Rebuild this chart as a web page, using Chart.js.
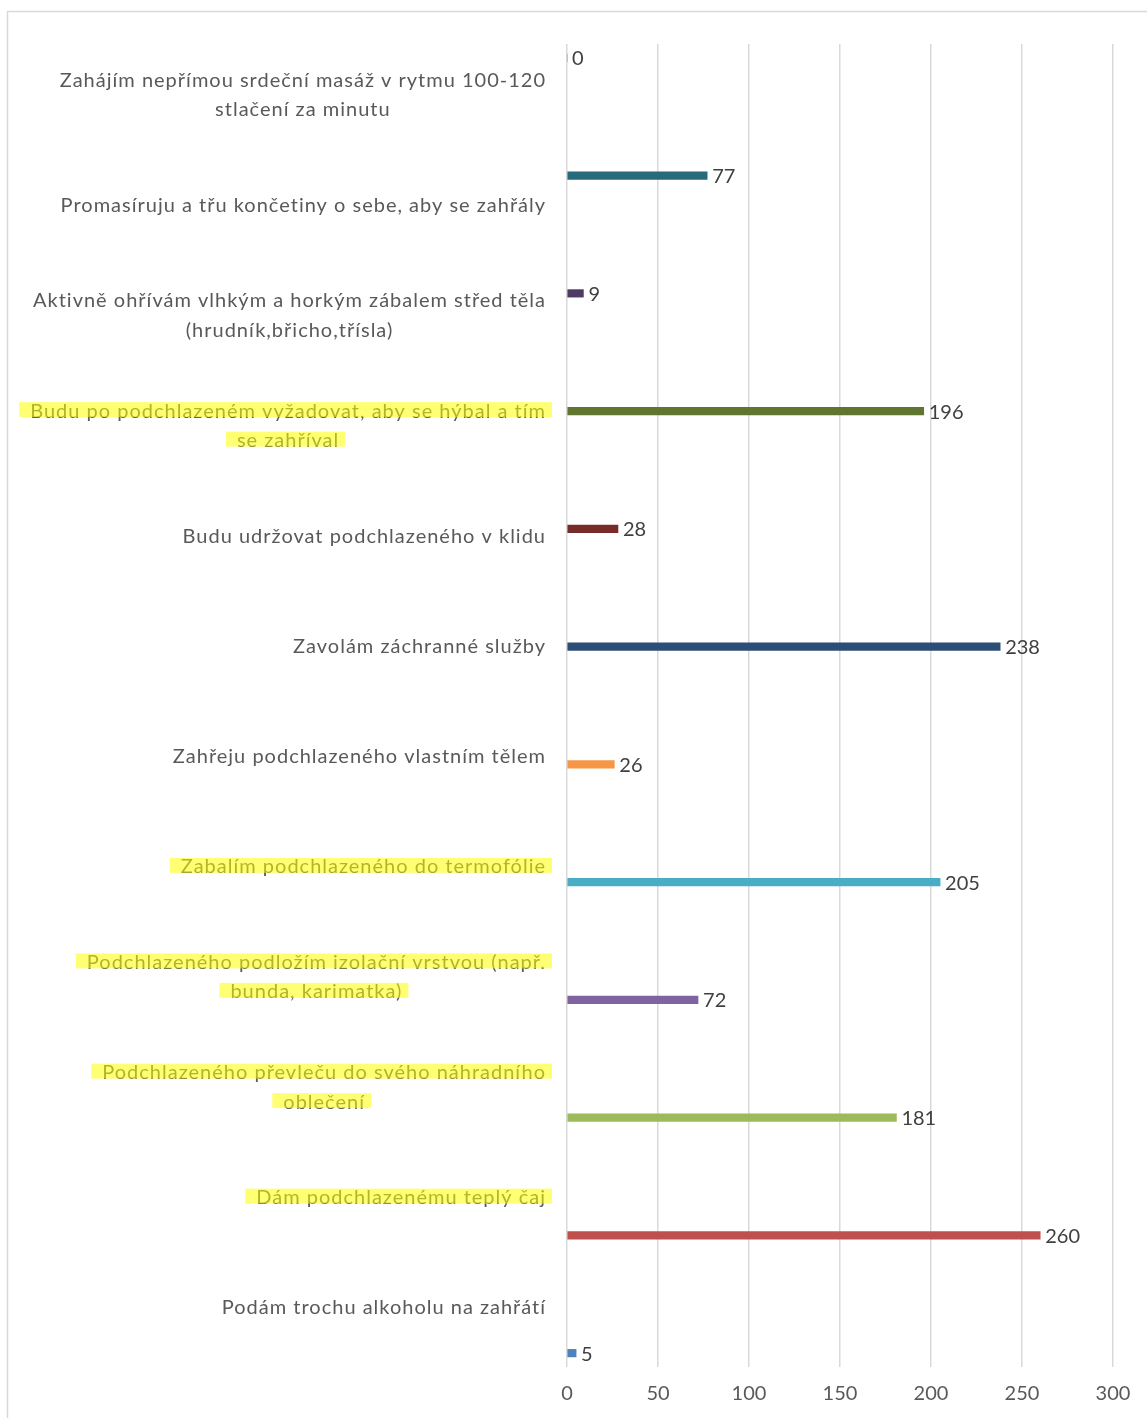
<!DOCTYPE html>
<html>
<head>
<meta charset="utf-8">
<script src="https://cdn.jsdelivr.net/npm/chart.js@4.4.1/dist/chart.umd.min.js"></script>
<style>
  html, body { margin: 0; padding: 0; background: #ffffff; }
  #wrap { width: 1147px; height: 1418px; position: relative; }
</style>
</head>
<body>
<div id="wrap"><canvas id="c" width="1147" height="1418"></canvas></div>
<script>
// ---- data (top to bottom as shown) ----
const categories = [
  ["Zahájím nepřímou srdeční masáž v rytmu 100-120", "stlačení za minutu"],
  ["Promasíruju a třu končetiny o sebe, aby se zahřály"],
  ["Aktivně ohřívám vlhkým a horkým zábalem střed těla", "(hrudník,břicho,třísla)"],
  ["Budu po podchlazeném vyžadovat, aby se hýbal a tím", "se zahříval"],
  ["Budu udržovat podchlazeného v klidu"],
  ["Zavolám záchranné služby"],
  ["Zahřeju podchlazeného vlastním tělem"],
  ["Zabalím podchlazeného do termofólie"],
  ["Podchlazeného podložím izolační vrstvou (např.", "bunda, karimatka)"],
  ["Podchlazeného převleču do svého náhradního", "oblečení"],
  ["Dám podchlazenému teplý čaj"],
  ["Podám trochu alkoholu na zahřátí"]
];
const values = [0, 77, 9, 196, 28, 238, 26, 205, 72, 181, 260, 5];
const highlighted = [false, false, false, true, false, false, false, true, true, true, true, false];
const seriesColors = [
  "#B65708", "#276A7C", "#4D3B62", "#5F7530", "#772C2A", "#2C4D75",
  "#F79646", "#4BACC6", "#8064A2", "#9BBB59", "#C0504D", "#4F81BD"
];
const xTicks = [0, 50, 100, 150, 200, 250, 300];

const NUM_FONT = "Lato, 'Open Sans', sans-serif";
const CAT_FONT = "Lato, 'Open Sans', sans-serif";

// one dataset per category, value only in its own category (Excel-style grouped series)
const datasets = values.map((v, i) => ({
  label: categories[i].join(" "),
  data: values.map((_, j) => (j === i ? v : null)),
  backgroundColor: seriesColors[i],
  borderWidth: 0,
  barThickness: 7.5
}));

const framePlugin = {
  id: "frame",
  beforeDraw(chart) {
    const ctx = chart.ctx;
    ctx.save();
    ctx.fillStyle = "#ffffff";
    ctx.fillRect(0, 0, chart.width, chart.height);
    ctx.strokeStyle = "#d9d9d9";
    ctx.lineWidth = 1.5;
    ctx.strokeRect(7.5, 11.5, chart.width + 20, chart.height + 20);
    ctx.restore();
  }
};

const catLabelPlugin = {
  id: "catLabels",
  afterDraw(chart) {
    const ctx = chart.ctx;
    const y = chart.scales.y;
    const rightEdge = chart.chartArea.left - 21;
    const lh = 29.5;
    ctx.save();
    ctx.font = "20px " + CAT_FONT;
    if ("letterSpacing" in ctx) ctx.letterSpacing = "1px";
    ctx.textBaseline = "middle";
    ctx.textAlign = "center";
    categories.forEach((lines, i) => {
      const cy = y.getPixelForValue(i) - 4;
      const widths = lines.map(l => ctx.measureText(l).width);
      const maxW = Math.max(...widths);
      const cx = rightEdge - maxW / 2;
      const y0 = cy - (lines.length - 1) * lh / 2;
      lines.forEach((l, k) => {
        ctx.fillStyle = "#595959";
        ctx.fillText(l, cx, y0 + k * lh);
      });
      if (highlighted[i]) {
        ctx.fillStyle = "rgba(255,255,0,0.55)";
        lines.forEach((l, k) => {
          const ly = y0 + k * lh;
          const w = widths[k];
          ctx.fillRect(cx - w / 2 - 11, ly - 9, w + 17, 15);
        });
      }
    });
    ctx.restore();
  }
};

const valueLabelPlugin = {
  id: "valueLabels",
  afterDatasetsDraw(chart) {
    const ctx = chart.ctx;
    ctx.save();
    ctx.font = "20px " + NUM_FONT;
    ctx.fillStyle = "#404040";
    ctx.textBaseline = "middle";
    ctx.textAlign = "left";
    chart.data.datasets.forEach((ds, i) => {
      const meta = chart.getDatasetMeta(i);
      meta.data.forEach((el, j) => {
        const v = ds.data[j];
        if (v === null || v === undefined) return;
        ctx.fillText(String(v), el.x + 5, el.y + 1);
      });
    });
    ctx.restore();
  }
};

new Chart(document.getElementById("c"), {
  type: "bar",
  data: { labels: categories, datasets },
  options: {
    indexAxis: "y",
    responsive: false,
    animation: false,
    layout: { padding: { top: 44, right: 34, left: 0, bottom: 0 } },
    plugins: { legend: { display: false }, tooltip: { enabled: false } },
    scales: {
      x: {
        min: 0,
        max: 300,
        afterFit(scale) { scale.height = 51; },
        afterBuildTicks(scale) { scale.ticks = xTicks.map(v => ({ value: v })); },
        ticks: { color: "#595959", font: { family: NUM_FONT, size: 20 }, padding: 15 },
        grid: { color: "#d9d9d9", lineWidth: 1.5, drawTicks: false },
        border: { display: false }
      },
      y: {
        afterFit(scale) { scale.width = 567; },
        ticks: { display: false },
        grid: { display: false },
        border: { display: false }
      }
    }
  },
  plugins: [framePlugin, catLabelPlugin, valueLabelPlugin]
});
</script>
</body>
</html>
